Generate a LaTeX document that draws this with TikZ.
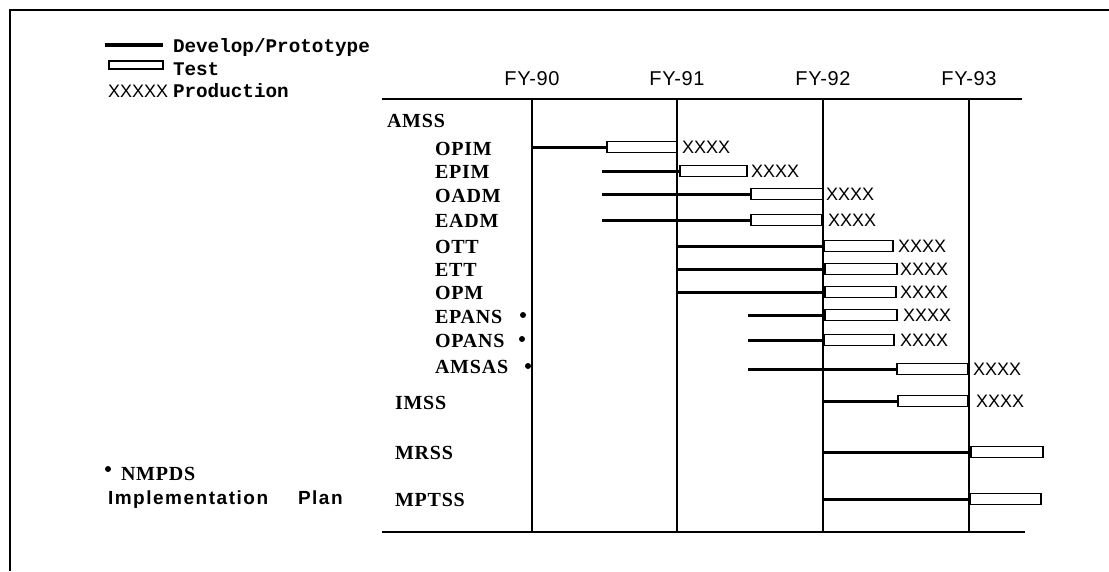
\documentclass[tikz,border=0pt]{standalone}
\usepackage{fontspec}
\setmainfont{Liberation Serif}
\newfontfamily\labff[LetterSpace=4]{Liberation Serif}
\newfontfamily\fyff[LetterSpace=3]{Liberation Sans}
\newfontfamily\prodff{Liberation Sans}
\newfontfamily\legff{Liberation Mono}
\newfontfamily\implff[LetterSpace=8]{Liberation Sans}
\begin{document}
\begin{tikzpicture}[x=1pt,y=-1pt,
  every node/.style={inner sep=0pt, outer sep=0pt},
  lab/.style={anchor=west, font=\fontsize{20}{22}\selectfont\labff\bfseries},
  fy/.style={anchor=center, font=\fontsize{20}{22}\selectfont\fyff},
  prod/.style={anchor=west, font=\fontsize{18}{20}\selectfont\prodff},
  leg/.style={anchor=base west, font=\fontsize{19.3}{22}\selectfont\legff\bfseries},
  impl/.style={anchor=base west, font=\fontsize{19}{21}\selectfont\implff\bfseries},
  dev/.style={line width=3pt},
  testbar/.style={draw, line width=1.8pt, rectangle, minimum height=11pt, fill=white},
  gridline/.style={line width=1.8pt},
  frame/.style={line width=2pt},
  star/.style={circle, fill=black, minimum size=6pt}
]
\useasboundingbox (0,0) rectangle (1109,571);
% frame
\coordinate (fTL) at (10,10);
\coordinate (fTR) at (1109,10);
\coordinate (fBL) at (10,571);
\draw[frame] (fTR) -- (fTL) -- (fBL);
% header and bottom lines
\coordinate (hL) at (382,99);
\coordinate (hR) at (1022,99);
\coordinate (bL) at (382,532);
\coordinate (bR) at (1025,532);
\draw[gridline] (hL) -- (hR);
\draw[gridline] (bL) -- (bR);
% year lines and labels
\foreach \nm/\x in {90/532,91/677,92/823,93/969}{
  \coordinate (t\nm) at (\x,99);
  \coordinate (u\nm) at (\x,532);
  \draw[gridline] (t\nm) -- (u\nm);
  \node[fy] (fy\nm) at (\x,79) {FY-\nm};
}
% legend
\coordinate (lgA) at (105,45);
\coordinate (lgB) at (163,45);
\draw[line width=3.5pt] (lgA) -- (lgB);
\node[draw, line width=1.8pt, minimum width=54pt, minimum height=8pt, anchor=west] (lgbar) at (109,65) {};
\node[leg] (lgdev) at (173,52) {Develop/Prototype};
\node[leg] (lgtest) at (173,75) {Test};
\node[anchor=base west, font=\fontsize{18}{20}\selectfont\prodff] (lgx) at (108,97) {XXXXX};
\node[leg] (lgprod) at (173,97) {Production};
% footnote
\node[star] (fstar) at (108,469) {};
\node[anchor=base west, font=\fontsize{20}{22}\selectfont\labff\bfseries] (fnm) at (121,480) {NMPDS};
\node[impl] (fimp) at (108,504) {Implementation};
\node[impl] (fplan) at (298,504) {Plan};
% row labels
\node[lab] (lAMSS) at (387,121) {AMSS};
\foreach \nm/\y in {OPIM/149,EPIM/172,OADM/196,EADM/221,OTT/247,ETT/270,OPM/293,EPANS/317,OPANS/341,AMSAS/367}{
  \node[lab] (l\nm) at (435,\y) {\nm};
}
\foreach \nm/\y in {IMSS/403,MRSS/453,MPTSS/500}{
  \node[lab] (l\nm) at (395,\y) {\nm};
}
\node[star] (sEPANS) at (523,315) {};
\node[star] (sOPANS) at (522,339) {};
\node[star] (sAMSAS) at (528,366) {};
% bars: name / y / dev start / bar start / bar end / production x
\foreach \nm/\y/\s/\a/\b/\p in {OPIM/147/531/607/677/682, EPIM/171/602/680/747/751, OADM/194/602/751/823/826, EADM/220/602/751/822/828, OTT/246/677/824/893/898, ETT/269/677/825/897/900, OPM/292/677/825/896/900, EPANS/315/748/825/897/903, OPANS/340/748/824/894/900, AMSAS/369/748/897/968/973, IMSS/401/822/898/968/976}{
  \coordinate (s\nm) at (\s,\y);
  \pgfmathsetmacro{\w}{\b-\a}
  \node[testbar, anchor=west, minimum width=\w pt] (b\nm) at (\a,\y) {};
  \draw[dev] (s\nm) -- (b\nm.west);
  \node[prod] (p\nm) at (\p,\y) {XXXX};
}
\foreach \nm/\y/\s/\a/\b in {MRSS/452/822/971/1043, MPTSS/499/822/970/1041}{
  \coordinate (s\nm) at (\s,\y);
  \pgfmathsetmacro{\w}{\b-\a}
  \node[testbar, anchor=west, minimum width=\w pt] (b\nm) at (\a,\y) {};
  \draw[dev] (s\nm) -- (b\nm.west);
}
\end{tikzpicture}
\end{document}
